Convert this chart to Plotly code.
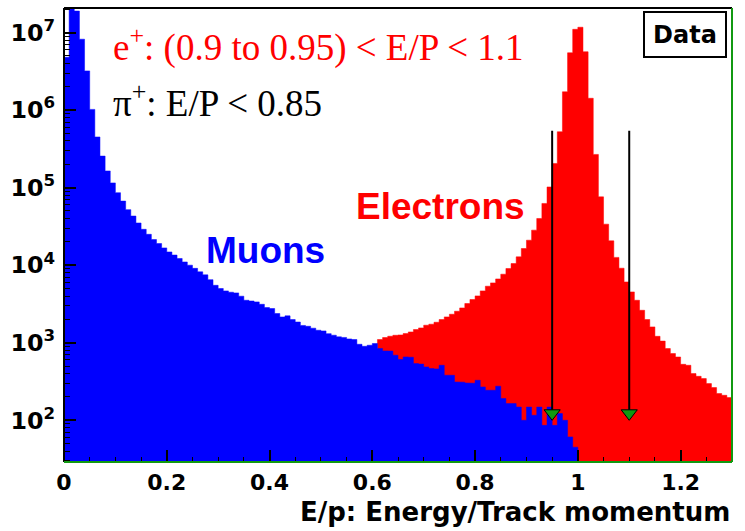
import numpy as np
import plotly.graph_objects as go

# Histogram binning (E/p), 0.01 per bin
BIN_WIDTH = 0.01

# Muon sample: bins starting at E/p = 0.00
muon_start = 0.0
muon_counts = [
    4.8e6, 2.2e7, 1.89e7, 8.2e6, 3.2e6, 1.02e6, 4.5e5, 2.55e5, 1.64e5, 1.15e5,
    8.6e4, 6.7e4, 5.2e4, 4.3e4, 3.5e4, 2.9e4, 2.5e4, 2.14e4, 1.9e4, 1.67e4,
    1.48e4, 1.35e4, 1.22e4, 1.10e4, 1.0e4, 9100, 8200, 7500, 6500, 5500,
    5000, 4660, 4480, 4390, 3980, 3530, 3450, 3360, 3130, 2840,
    2760, 2380, 2150, 2220, 1990, 1850, 1670, 1630, 1540, 1450,
    1420, 1310, 1250, 1190, 1170, 1120, 1100, 955, 900, 928,
    977, 842, 784, 780, 690, 607, 656, 650, 538, 530,
    487, 464, 460, 512, 381, 380, 312, 310, 303, 300,
    328, 269, 244, 244, 275, 191, 164, 164, 148, 100,
    148, 116, 148, 86, 148, 86, 122, 100, 61, 45,
]

# Electron sample: bins starting at E/p = 0.61
electron_start = 0.61
electron_counts = [
    1100, 1167, 1213, 1248, 1260, 1312, 1377, 1479, 1552,
    1682, 1733, 1837, 1991, 2153, 2330, 2548, 2811, 3204, 3608,
    4018, 4660, 5355, 5908, 6650, 7650, 9060, 10500, 12800, 16400,
    21000, 28300, 40000, 62500, 102000, 205000, 525000, 1720000, 5480000, 11000000,
    11700000, 5650000, 1420000, 268000, 76000, 33800, 20600, 12600, 9140, 6080,
    4520, 3530, 2620, 1990, 1600, 1210, 1050, 841, 725, 655,
    527, 512, 400, 369, 345, 297, 264, 221, 210, 196,
]

# Electron selection cuts on E/P
cut_values = [0.95, 1.10]
cut_arrow_top = 5.4e5
cut_arrow_tip = 100

RED = "#ff0000"
BLUE = "#0000ff"
GREEN = "#119911"
HIST_FLOOR = 1.0  # below the visible y range, closes the filled histogram


def step_outline(start, counts, width):
    """Closed outline of a filled histogram (step shape down to the floor)."""
    edges = start + np.arange(len(counts) + 1) * width
    xs = [edges[0]]
    ys = [HIST_FLOOR]
    for i, c in enumerate(counts):
        xs += [edges[i], edges[i + 1]]
        ys += [c, c]
    xs.append(edges[-1])
    ys.append(HIST_FLOOR)
    return xs, ys


fig = go.Figure()

ex, ey = step_outline(electron_start, electron_counts, BIN_WIDTH)
fig.add_trace(go.Scatter(
    x=ex, y=ey, mode="lines", fill="toself", fillcolor=RED,
    line=dict(color=RED, width=0.5), hoverinfo="skip",
))
mx, my = step_outline(muon_start, muon_counts, BIN_WIDTH)
fig.add_trace(go.Scatter(
    x=mx, y=my, mode="lines", fill="toself", fillcolor=BLUE,
    line=dict(color=BLUE, width=0.5), hoverinfo="skip",
))

# Cut arrows
for cv in cut_values:
    fig.add_trace(go.Scatter(
        x=[cv, cv], y=[cut_arrow_top, cut_arrow_tip * 1.15],
        mode="lines", line=dict(color="black", width=2),
        hoverinfo="skip",
    ))
    fig.add_trace(go.Scatter(
        x=[cv], y=[cut_arrow_tip * 1.23],
        mode="markers",
        marker=dict(symbol="triangle-down", size=14, color=GREEN,
                    line=dict(color="black", width=1)),
        hoverinfo="skip",
    ))

fig.update_layout(
    width=745, height=531,
    margin=dict(l=64, r=13, t=8, b=69),
    paper_bgcolor="white", plot_bgcolor="white",
    showlegend=False,
    xaxis=dict(
        range=[0, 1.3], dtick=0.2, tick0=0,
        ticks="inside", ticklen=12, tickwidth=1.5, tickcolor="black",
        minor=dict(dtick=0.05, ticks="inside", ticklen=5, tickwidth=1.2, tickcolor="black"),
        showgrid=False, zeroline=False, showline=False,
        tickfont=dict(family="DejaVu Sans", size=22, color="black", weight="bold"),
        ticklabelstandoff=5,
    ),
    yaxis=dict(
        type="log", range=[1.462, 7.316], dtick=1,
        exponentformat="power",
        ticks="inside", ticklen=12, tickwidth=1.5, tickcolor="black",
        minor=dict(dtick="D1", ticks="inside", ticklen=6, tickwidth=1.2, tickcolor="black"),
        showgrid=False, zeroline=False, showline=False,
        tickfont=dict(family="DejaVu Sans", size=19, color="black", weight="bold"),
        ticklabelstandoff=8,
    ),
)

# Frame
frame = [
    (0, 0, 0, 1, "black"),
    (0, 1, 1, 1, "black"),
    (0, 0, 1, 0, GREEN),
    (1, 0, 1, 1, GREEN),
]
for x0, y0, x1, y1, c in frame:
    fig.add_shape(type="line", xref="paper", yref="paper",
                  x0=x0, y0=y0, x1=x1, y1=y1,
                  line=dict(color=c, width=2), layer="above")

serif = "Liberation Serif"
fig.add_annotation(
    xref="paper", yref="paper", x=0.071, y=0.918, xanchor="left", yanchor="middle",
    text="e<sup>+</sup>: (0.9 to 0.95) &lt; E/P &lt; 1.1", showarrow=False,
    font=dict(family=serif, size=37, color=RED),
)
fig.add_annotation(
    xref="paper", yref="paper", x=0.071, y=0.797, xanchor="left", yanchor="middle",
    text="π<sup>+</sup>: E/P &lt; 0.85", showarrow=False,
    font=dict(family=serif, size=37, color="black"),
)
fig.add_annotation(
    xref="paper", yref="paper", x=0.5636, y=0.5636, xanchor="center", yanchor="middle",
    text="Electrons", showarrow=False,
    font=dict(family="Liberation Sans", size=37, color=RED, weight="bold"),
)
fig.add_annotation(
    xref="paper", yref="paper", x=0.3009, y=0.4648, xanchor="center", yanchor="middle",
    text="Muons", showarrow=False,
    font=dict(family="Liberation Sans", size=37, color=BLUE, weight="bold"),
)
fig.add_annotation(
    xref="paper", yref="paper", x=0.9296, y=0.9416, xanchor="center", yanchor="middle",
    text="Data", showarrow=False, width=80, height=43,
    bgcolor="white", bordercolor="black", borderwidth=2, borderpad=0,
    font=dict(family="DejaVu Sans", size=24, color="black", weight="bold"),
)
fig.add_annotation(
    xref="paper", yref="paper", x=1.0, y=-0.111, xanchor="right", yanchor="middle",
    text="E/p: Energy/Track momentum", showarrow=False,
    font=dict(family="DejaVu Sans", size=26, color="black", weight="bold"),
)

fig.write_html("out.html")
